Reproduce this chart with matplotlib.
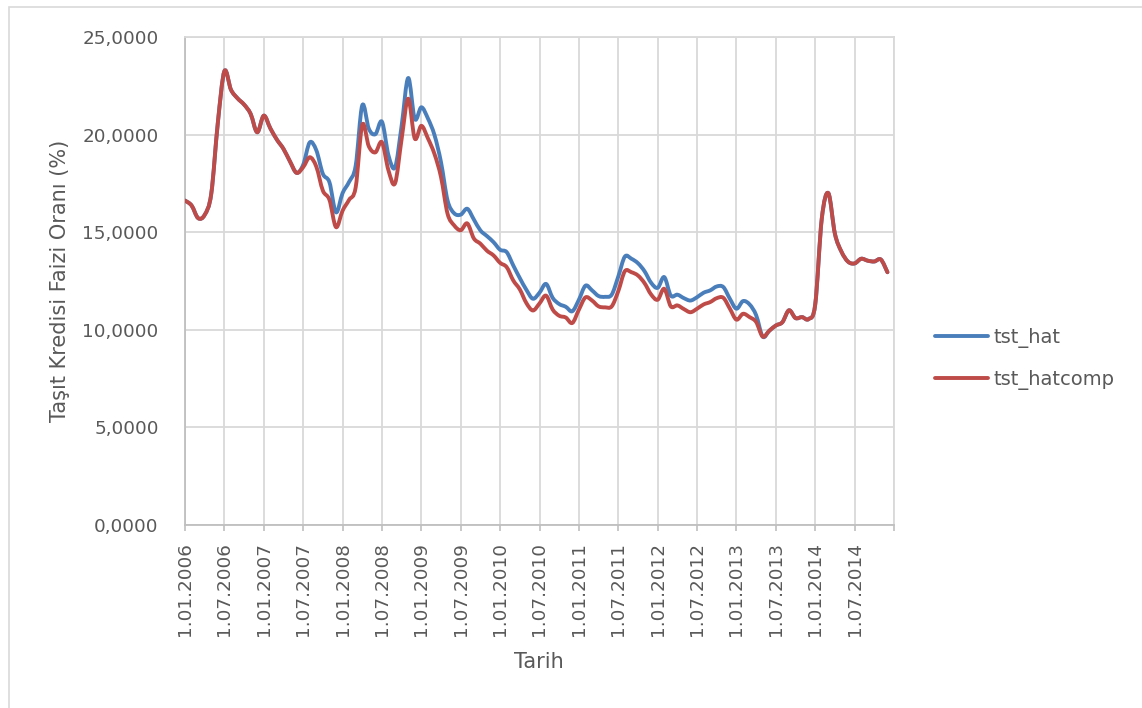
import numpy as np
import matplotlib.pyplot as plt
from matplotlib.patches import Rectangle, PathPatch
from matplotlib.path import Path
from matplotlib.lines import Line2D

# monthly series, Jan 2006 .. Dec 2014
tst_hat = [16.62, 16.37, 15.72, 15.89, 16.97, 20.60, 23.25, 22.30, 21.86, 21.54,
           21.06, 20.12, 20.97, 20.32, 19.74, 19.27, 18.62, 18.04, 18.45, 19.60,
           19.20, 17.99, 17.56, 16.02, 17.00, 17.58, 18.41, 21.50, 20.30, 20.02,
           20.66, 18.93, 18.33, 20.46, 22.90, 20.80, 21.40, 20.83, 19.98, 18.58,
           16.62, 15.97, 15.90, 16.20, 15.65, 15.09, 14.80, 14.49, 14.10, 13.98,
           13.30, 12.65, 12.05, 11.59, 11.90, 12.35, 11.64, 11.32, 11.18, 10.95,
           11.54, 12.26, 12.02, 11.73, 11.69, 11.80, 12.73, 13.75, 13.64, 13.41,
           13.00, 12.41, 12.15, 12.70, 11.75, 11.80, 11.62, 11.50, 11.67, 11.90,
           12.02, 12.22, 12.19, 11.59, 11.08, 11.47, 11.30, 10.75, 9.65, 9.95,
           10.22, 10.39, 11.00, 10.60, 10.65, 10.55, 11.30, 15.70, 17.00, 14.92,
           14.00, 13.49, 13.40, 13.64, 13.54, 13.50, 13.60, 12.95]

tst_hatcomp = [16.62, 16.37, 15.72, 15.89, 16.97, 20.60, 23.25, 22.30, 21.86, 21.54,
               21.06, 20.12, 20.97, 20.32, 19.74, 19.27, 18.62, 18.04, 18.33, 18.84,
               18.36, 17.13, 16.66, 15.26, 16.10, 16.66, 17.30, 20.50, 19.40, 19.09,
               19.61, 18.16, 17.51, 19.78, 21.84, 19.80, 20.45, 19.81, 19.01, 17.82,
               15.94, 15.35, 15.10, 15.45, 14.68, 14.41, 14.05, 13.81, 13.43, 13.21,
               12.53, 12.07, 11.37, 10.99, 11.35, 11.75, 11.04, 10.72, 10.63, 10.35,
               11.03, 11.66, 11.50, 11.20, 11.15, 11.20, 11.98, 13.00, 12.95, 12.78,
               12.39, 11.81, 11.54, 12.10, 11.20, 11.25, 11.06, 10.90, 11.08, 11.30,
               11.42, 11.62, 11.64, 11.08, 10.52, 10.82, 10.65, 10.40, 9.65, 9.95,
               10.22, 10.39, 11.00, 10.60, 10.65, 10.55, 11.30, 15.70, 17.00, 14.92,
               14.00, 13.49, 13.40, 13.64, 13.54, 13.50, 13.60, 12.95]

date_labels = ['1.01.2006', '1.07.2006', '1.01.2007', '1.07.2007', '1.01.2008',
               '1.07.2008', '1.01.2009', '1.07.2009', '1.01.2010', '1.07.2010',
               '1.01.2011', '1.07.2011', '1.01.2012', '1.07.2012', '1.01.2013',
               '1.07.2013', '1.01.2014', '1.07.2014']

y_ticks = [0, 5, 10, 15, 20, 25]

blue = '#4A7EBB'
red = '#BE4B48'
gray_txt = '#595959'
grid_c = '#D9D9D9'


def smooth_path(x, y):
    # Catmull-Rom style cubic Bezier through every point (like a "smoothed line")
    pts = np.column_stack([x, y]).astype(float)
    ext = np.vstack([pts[0], pts, pts[-1]])
    verts = [pts[0]]
    codes = [Path.MOVETO]
    for i in range(len(pts) - 1):
        p0, p1, p2, p3 = ext[i], ext[i + 1], ext[i + 2], ext[i + 3]
        verts += [p1 + (p2 - p0) / 6, p2 - (p3 - p1) / 6, p2]
        codes += [Path.CURVE4] * 3
    return Path(verts, codes)


W, H = 1142, 708
fig = plt.figure(figsize=(W / 100, H / 100), dpi=100)
plt.rcParams['font.family'] = ['DejaVu Sans']

# chart area border
fig.patches.append(Rectangle((9 / W, -0.1), 2, 1.1 - 7 / H, transform=fig.transFigure,
                             fill=False, edgecolor=grid_c, lw=1.2))

ax = fig.add_axes([185 / W, 1 - 525 / H, (894 - 185) / W, (525 - 37) / H])

months = np.arange(len(tst_hat))
for series, c in [(tst_hat, blue), (tst_hatcomp, red)]:
    ax.add_patch(PathPatch(smooth_path(months, series), fill=False, edgecolor=c,
                           lw=2.8, joinstyle='round', capstyle='round', zorder=3))

ax.set_xlim(0, 108)
ax.set_ylim(0, 25)

ax.set_xticks(np.arange(0, 109, 6))
ax.set_xticklabels(date_labels + [''], rotation=90, fontsize=13.2, color=gray_txt)
ax.set_yticks(y_ticks)
ax.set_yticklabels([('%.4f' % v).replace('.', ',') for v in y_ticks],
                   fontsize=13.2, color=gray_txt)

ax.tick_params(axis='x', direction='out', length=4, width=1.2, color='#BFBFBF', pad=8)
ax.tick_params(axis='y', length=0, pad=19)

ax.grid(True, color=grid_c, lw=1.3)
ax.set_axisbelow(True)
for s in ['top', 'right']:
    ax.spines[s].set_color(grid_c)
    ax.spines[s].set_linewidth(1.3)
for s in ['left', 'bottom']:
    ax.spines[s].set_color('#BFBFBF')
    ax.spines[s].set_linewidth(1.3)

ax.set_ylabel('Taşıt Kredisi Faizi Oranı (%)', fontsize=15, color=gray_txt)
ax.yaxis.set_label_coords((60 - 185) / (894 - 185), 0.5)
ax.set_xlabel('Tarih', fontsize=15, color=gray_txt)
ax.xaxis.set_label_coords((539 - 185) / (894 - 185), (525 - 662) / (525 - 37))
ax.xaxis.label.set_va('center')
ax.yaxis.label.set_va('center')

handles = [Line2D([], [], color=blue, lw=2.8, solid_capstyle='round'),
           Line2D([], [], color=red, lw=2.8, solid_capstyle='round')]
fig.legend(handles, ['tst_hat', 'tst_hatcomp'], loc='center left',
           bbox_to_anchor=(935 / W, 1 - 359 / H),
           frameon=False, fontsize=14, handlelength=2.73, handletextpad=0.26,
           labelspacing=1.15, borderpad=0, borderaxespad=0, labelcolor=gray_txt)

plt.savefig('out.png', dpi=100)
